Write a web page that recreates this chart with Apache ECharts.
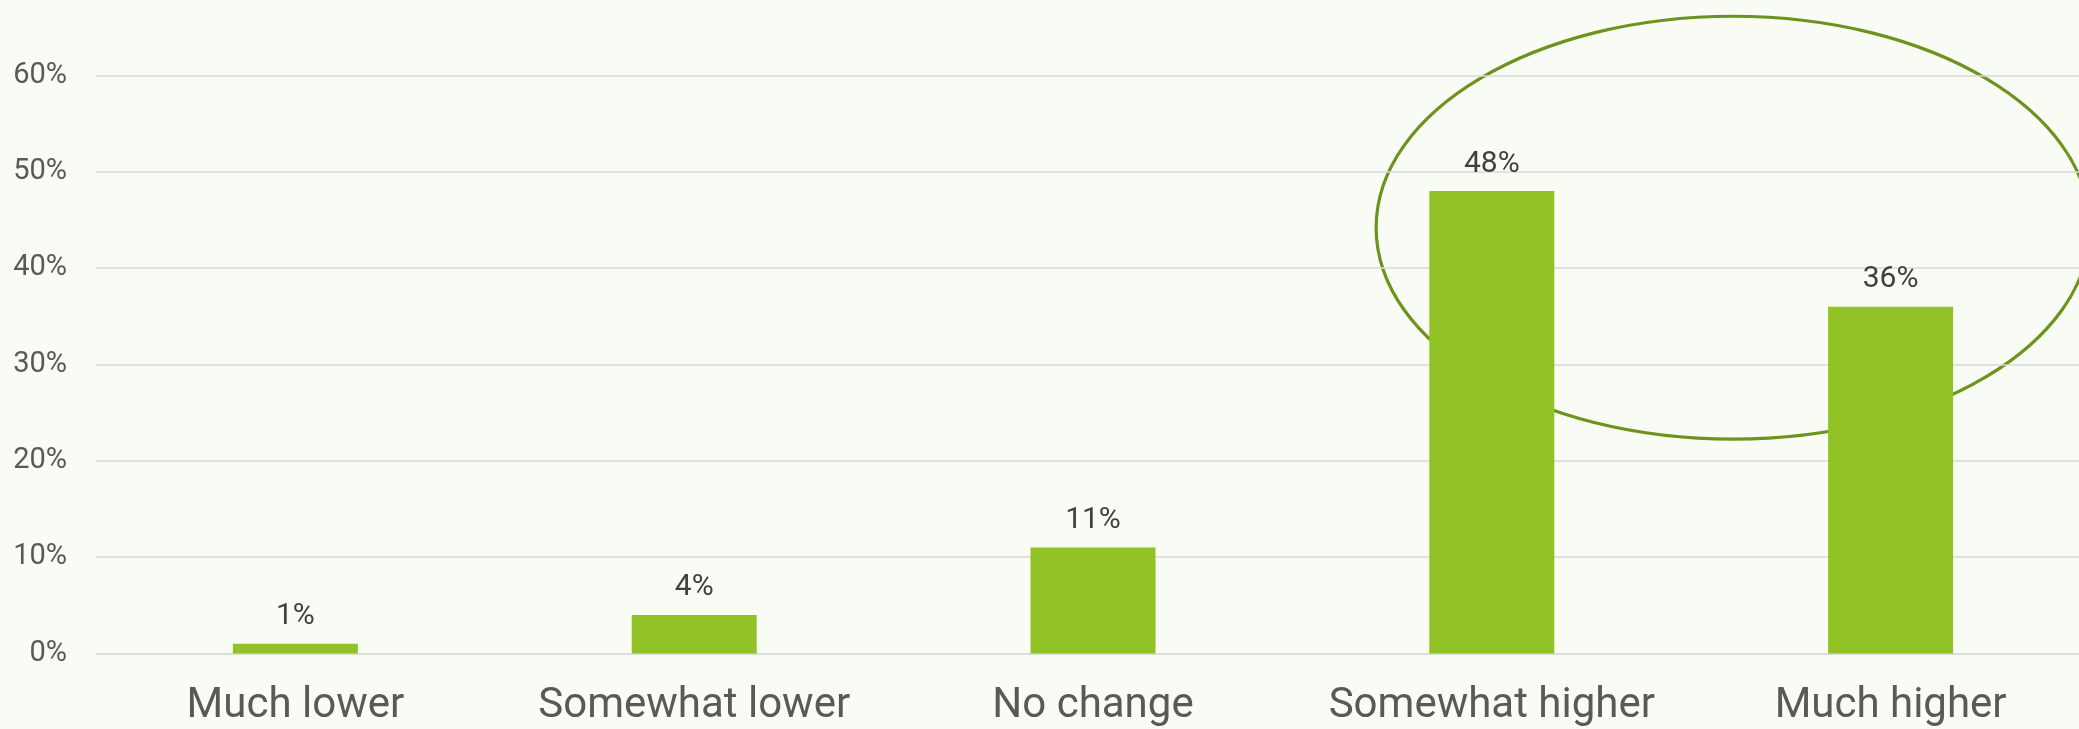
<!DOCTYPE html>
<html>
<head>
<meta charset="utf-8">
<title>Expected change</title>
<script src="https://cdn.jsdelivr.net/npm/echarts@6/dist/echarts.min.js"></script>
<style>
  html, body { margin: 0; padding: 0; background: #f9fcf4; }
  #chart { width: 2079px; height: 729px; }
</style>
</head>
<body>
<div id="chart"></div>
<script>
// Answer categories and share of respondents (%)
const categories = ['Much lower', 'Somewhat lower', 'No change', 'Somewhat higher', 'Much higher'];
const shares = [1, 4, 11, 48, 36];
const yTicks = [0, 10, 20, 30, 40, 50, 60];

// Highlight ring around the two "higher" answers, in data units:
// centre between categories 3 and 4, radius in categories / percentage points
const ring = { fromIndex: 3, toIndex: 4, t: 0.605, centerValue: 44.2, rxCategories: 0.895, ryValue: 21.95 };

const chart = echarts.init(document.getElementById('chart'), null, { renderer: 'canvas' });

const option = {
  backgroundColor: '#f9fcf4',
  animation: false,
  // plot area runs slightly past the right edge of the canvas
  grid: { left: 96, width: 1994, top: 75.5, bottom: 75.5, containLabel: false, outerBoundsMode: 'none' },
  xAxis: {
    type: 'category',
    data: categories,
    axisLine: { show: true, lineStyle: { color: '#d9d9d9', width: 1.5 } },
    axisTick: { show: false },
    axisLabel: {
      color: '#595959',
      fontFamily: 'Roboto',
      fontSize: 42,
      margin: 32,
      interval: 0
    }
  },
  yAxis: {
    type: 'value',
    min: yTicks[0],
    max: yTicks[yTicks.length - 1],
    interval: yTicks[1] - yTicks[0],
    axisLine: { show: false },
    axisTick: { show: false },
    splitLine: { lineStyle: { color: '#d9d9d9', width: 1.5 } },
    axisLabel: {
      color: '#595959',
      fontFamily: 'Roboto',
      fontSize: 29,
      margin: 29,
      formatter: '{value}%'
    }
  },
  series: [{
    type: 'bar',
    data: shares,
    barWidth: 125,
    itemStyle: { color: '#91c226' },
    label: {
      show: true,
      position: 'top',
      distance: 12,
      color: '#404040',
      fontFamily: 'Roboto',
      fontSize: 30,
      formatter: p => p.value + '%'
    }
  }]
};

chart.setOption(option);

// Place the highlight ellipse through the chart's own axes
const ringLeft = chart.convertToPixel({ gridIndex: 0 }, [ring.fromIndex, ring.centerValue]);
const ringRight = chart.convertToPixel({ gridIndex: 0 }, [ring.toIndex, ring.centerValue]);
const ringTop = chart.convertToPixel({ gridIndex: 0 }, [ring.fromIndex, ring.centerValue + ring.ryValue]);
const step = ringRight[0] - ringLeft[0];
chart.setOption({
  graphic: [{
    type: 'ellipse',
    z: -1,
    silent: true,
    shape: {
      cx: ringLeft[0] + step * ring.t,
      cy: ringLeft[1],
      rx: step * ring.rxCategories,
      ry: ringLeft[1] - ringTop[1]
    },
    style: { fill: 'none', stroke: '#6b931d', lineWidth: 3.2 }
  }]
});
</script>
</body>
</html>
